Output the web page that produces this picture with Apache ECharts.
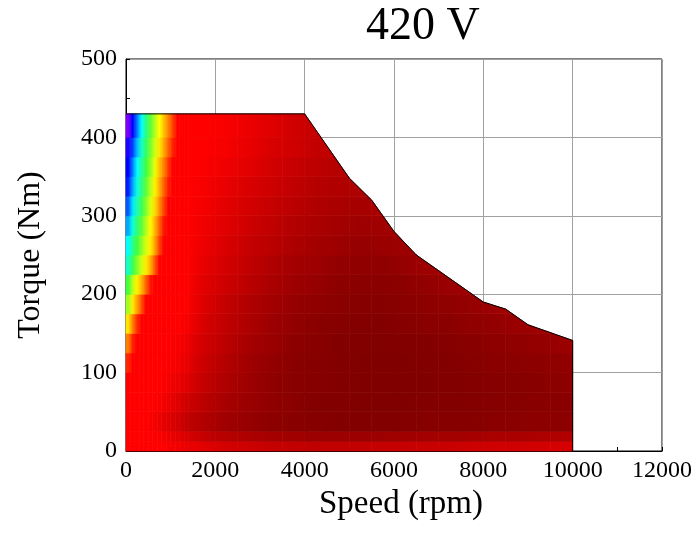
<!DOCTYPE html>
<html>
<head>
<meta charset="utf-8">
<script src="https://cdn.jsdelivr.net/npm/echarts@6/dist/echarts.min.js"></script>
<style>
html,body{margin:0;padding:0;background:#fff;}
#chart{width:699px;height:539px;}
</style>
</head>
<body>
<div id="chart"></div>
<script>
const chartTitle = '420 V';
const xAxisName = 'Speed (rpm)';
const yAxisName = 'Torque (Nm)';

// speed bin edges (rpm) of the efficiency map
const speedEdges = [0,100,200,300,400,500,600,700,800,900,1000,1100,1200,1300,1400,
  2000,2500,3000,3500,4000,4500,5000,5500,6000,6500,7000,7500,8000,8500,9000,9500,10000];
// torque bin edges (Nm)
const torqueEdges = [0,12,25,50,75,100,125,150,175,200,225,250,275,300,325,350,375,400,430];

const eff0  = [92,92,92,92,92,92,92,92,92,92.2,92.3,92.4,92.5,92.6, 92.9,93.4,93.6,93.8,93.9,94.0,93.9,93.9,93.8,93.8,93.7,93.7,93.6,93.5,93.5,93.4,93.3];
const eff1  = [92,92,92,92,92,92,92.1,92.2,92.3,92.5,92.7,92.9,93.0,93.2, 93.8,94.3,94.6,94.8,95.0,95.1,95.1,95.1,95.1,95.0,94.9,94.9,94.8,94.7,94.7,94.6,94.5];
const eff2  = [92,92,92,92,92,92.2,92.3,92.5,92.8,93.0,93.2,93.4,93.6,93.9, 94.4,95.0,95.3,95.6,95.7,95.8,95.9,95.9,95.9,95.9,95.8,95.8,95.8,95.7,95.7,95.6,95.6];
const eff3  = [92,92,92,92,92,92,92,92.2,92.4,92.6,92.8,93.0,93.3,93.5, 94.1,94.8,95.2,95.5,95.7,95.9,95.9,96.0,96.0,96.0,95.9,95.9,95.9,95.8,95.8,95.7,95.7];
const eff4  = [92,92,92,92,92,92,92,92,92.1,92.3,92.4,92.6,92.8,93.0, 93.8,94.6,95.1,95.5,95.7,95.8,95.9,96.0,96.0,96.0,96.0,95.9,95.9,95.8,95.8,95.7,95.6];
const eff5  = [91.4,92,92,92,92,92,92,92,92,92.1,92.2,92.3,92.5,92.7, 93.6,94.4,95.0,95.4,95.7,95.8,95.9,96.0,96.0,96.0,95.9,95.9,95.8,95.7,95.7,95.6,95.5];
const eff6  = [90.0,91.5,92,92,92,92,92,92,92,92,92.1,92.2,92.3,92.5, 93.4,94.2,94.8,95.2,95.6,95.7,95.9,95.9,96.0,95.9,95.9,95.8,95.7,95.6,95.5,95.4,95.2];
const eff7  = [88.4,90.0,91.3,92,92,92,92,92,92,92,92,92,92.1,92.2, 93.2,94.0,94.6,95.1,95.4,95.7,95.8,95.9,95.9,95.8,95.7,95.7,95.5,95.4,95.2,95.1,95.0];
const eff8  = [87.0,88.3,89.5,90.8,92,92,92,92,92,92,92,92,92,92, 93.0,93.9,94.5,94.9,95.3,95.5,95.7,95.8,95.8,95.7,95.6,95.5,95.3,95.1,95.0];
const eff9  = [86.0,87.3,88.2,89.2,90.5,91.7,92,92,92,92,92,92,92,92, 92.9,93.6,94.2,94.7,95.1,95.3,95.6,95.7,95.7,95.6,95.4,95.2,95.0];
const eff10 = [84.6,85.8,86.7,87.5,88.3,89.3,90.7,92,92,92,92,92,92,92, 92.7,93.4,94.0,94.5,94.9,95.1,95.4,95.5,95.5,95.3,95.1,95.0];
const eff11 = [84.0,85.2,86.0,86.8,87.6,88.3,89.5,91.0,92,92,92,92,92,92, 92.5,93.2,93.8,94.2,94.6,94.9,95.1,95.3,95.2,95.1];
const eff12 = [83.3,84.4,85.4,86.3,87.2,88.1,89.2,90.5,91.7,92,92,92,92,92, 92.4,93.0,93.6,94.0,94.4,94.7,94.9,95.1,95.0,94.8];
const eff13 = [82.7,83.8,84.8,85.8,86.7,87.6,88.6,89.8,91.0,92,92,92,92,92, 92.3,92.9,93.4,93.8,94.2,94.5,94.7,94.8,94.7];
const eff14 = [82.2,83.3,84.3,85.3,86.3,87.2,88.2,89.3,90.5,91.6,92,92,92,92, 92.2,92.7,93.2,93.6,94.0,94.3,94.5,94.6];
const eff15 = [82.0,83.0,84.0,85.0,86.0,86.8,87.8,89.0,90.0,91.2,92,92,92,92, 92.1,92.5,92.9,93.4,93.8,94.1,94.3];
const eff16 = [81.5,82.5,83.5,84.6,85.6,86.6,87.5,88.4,89.4,90.5,91.5,92,92,92, 92.0,92.3,92.7,93.2,93.5,93.9,94.0];
const eff17 = [80.0,82.0,83.0,84.0,85.3,86.3,87.2,88.0,89.0,90.0,91.0,92,92,92, 92.0,92.2,92.6,93.0,93.5,93.8];
const efficiencyRows = [eff0,eff1,eff2,eff3,eff4,eff5,eff6,eff7,eff8,eff9,eff10,eff11,eff12,eff13,eff14,eff15,eff16,eff17];

// maximum torque envelope
const envelopeSpeed  = [0,4000,5000,5500,6000,6500,8000,8500,9000,10000,10000];
const envelopeTorque = [430,430,348,320,280,250,190,181,161,141,0];

const effMin = 80, effMax = 96;
const effColors = ['#8000ff','#0000ff','#00ffff','#40ff40','#ffff00','#ff8000','#ff0000','#c00000','#800000'];

const serif = "'Liberation Serif','Times New Roman',serif";

// one data item per map cell: [speedLo, speedHi, torqueLo, torqueHi, efficiency, row, col]
const cells = [];
const cellIndex = efficiencyRows.map(() => []);
efficiencyRows.forEach((row, r) => {
  row.forEach((v, c) => {
    if (v != null) {
      cellIndex[r][c] = cells.length;
      cells.push([speedEdges[c], speedEdges[c + 1], torqueEdges[r], torqueEdges[r + 1], v, r, c]);
    }
  });
});

const nSeg = 9; // envelope segments before the final vertical drop
function envTop(x) {
  for (let i = 0; i < nSeg; i++) {
    const xa = envelopeSpeed[i], xb = envelopeSpeed[i + 1];
    if (x >= xa && x <= xb) {
      const t = (x - xa) / (xb - xa);
      return envelopeTorque[i] + t * (envelopeTorque[i + 1] - envelopeTorque[i]);
    }
  }
  return 0;
}

function renderCell(params, api) {
  const x0 = api.value(0), x1 = api.value(1), y0 = api.value(2), y1 = api.value(3);
  const r = api.value(5), c = api.value(6);
  let xs = [x0, x1];
  for (let i = 0; i < nSeg; i++) {
    const xa = envelopeSpeed[i], xb = envelopeSpeed[i + 1];
    const ya = envelopeTorque[i], yb = envelopeTorque[i + 1];
    if (xa > x0 && xa < x1) xs.push(xa);
    if (ya !== yb) {
      [y0, y1].forEach(yc => {
        const t = (yc - ya) / (yb - ya);
        if (t > 0 && t < 1) {
          const xc = xa + t * (xb - xa);
          if (xc > x0 && xc < x1) xs.push(xc);
        }
      });
    }
  }
  // keep only the part of the cell that lies under the envelope
  xs = xs.filter(x => envTop(x) >= y0 - 1e-9);
  if (xs.length < 2) return null;
  xs.sort((a, b) => b - a);
  const xR = xs[0], xL = xs[xs.length - 1];
  if (xR - xL < 1e-9) return null;
  const pts = [api.coord([xL, y0]), api.coord([xR, y0])];
  xs.forEach(x => pts.push(api.coord([x, Math.min(y1, envTop(x))])));

  // colour shading between neighbouring cell centres (colours from the visualMap)
  const color = api.visual('color');
  const li = cellIndex[r][c - 1], ri = cellIndex[r][c + 1];
  const lx = li != null ? (speedEdges[c - 1] + speedEdges[c]) / 2 : x0;
  const rx = ri != null ? (speedEdges[c + 1] + speedEdges[c + 2]) / 2 : x1;
  const lc = li != null ? api.visual('color', li) : color;
  const rc = ri != null ? api.visual('color', ri) : color;
  const pl = api.coord([lx, y0])[0];
  const pm = api.coord([(x0 + x1) / 2, y0])[0];
  const pr = api.coord([rx, y0])[0];
  const fill = {
    type: 'linear', x: pl, y: 0, x2: pr, y2: 0, global: true,
    colorStops: [
      { offset: 0, color: lc },
      { offset: (pm - pl) / (pr - pl), color: color },
      { offset: 1, color: rc }
    ]
  };
  return {
    type: 'polygon',
    shape: { points: pts },
    style: { fill: fill, stroke: fill, lineWidth: 0.7 }
  };
}

const chart = echarts.init(document.getElementById('chart'), null, { renderer: 'canvas' });
chart.setOption({
  animation: false,
  backgroundColor: '#fff',
  title: {
    text: chartTitle,
    left: 361,
    top: -1,
    textStyle: { fontFamily: serif, fontSize: 46, fontWeight: 'normal', color: '#000' }
  },
  grid: {
    left: 126, top: 59, width: 536, height: 392,
    show: true, borderColor: '#000', borderWidth: 1, backgroundColor: 'transparent'
  },
  visualMap: {
    type: 'continuous', show: false, seriesIndex: 0, dimension: 4,
    min: effMin, max: effMax,
    inRange: { color: effColors }
  },
  xAxis: {
    type: 'value', min: 0, max: 12000, interval: 2000,
    name: xAxisName, nameLocation: 'middle', nameGap: 24,
    nameTextStyle: { fontFamily: serif, fontSize: 33, color: '#000', padding: [0, 0, 0, 14] },
    axisLine: { show: true, lineStyle: { color: '#000', width: 1 } },
    axisTick: { show: true, inside: true, length: 4, lineStyle: { color: '#000' } },
    minorTick: { show: true, splitNumber: 2, length: 4, lineStyle: { color: '#000' } },
    splitLine: { show: true, lineStyle: { color: '#a0a0a0', width: 1 } },
    axisLabel: { fontFamily: serif, fontSize: 24, color: '#000', margin: 8, formatter: v => String(v) }
  },
  yAxis: {
    type: 'value', min: 0, max: 500, interval: 100,
    name: yAxisName, nameLocation: 'middle', nameGap: 79, nameRotate: 90,
    nameTextStyle: { fontFamily: serif, fontSize: 32, color: '#000' },
    axisLine: { show: true, lineStyle: { color: '#000', width: 1 } },
    axisTick: { show: true, inside: true, length: 4, lineStyle: { color: '#000' } },
    minorTick: { show: true, splitNumber: 2, length: 4, lineStyle: { color: '#000' } },
    splitLine: { show: true, lineStyle: { color: '#a0a0a0', width: 1 } },
    axisLabel: { fontFamily: serif, fontSize: 24, color: '#000', margin: 9, formatter: v => String(v) }
  },
  series: [
    {
      type: 'custom',
      renderItem: renderCell,
      data: cells,
      dimensions: ['speedLo', 'speedHi', 'torqueLo', 'torqueHi', 'efficiency', 'row', 'col'],
      encode: { x: [0, 1], y: [2, 3] },
      silent: true,
      z: 2
    },
    {
      type: 'line',
      data: envelopeSpeed.map((s, i) => [s, envelopeTorque[i]]),
      symbol: 'none',
      lineStyle: { color: '#000', width: 1 },
      silent: true,
      z: 3
    }
  ]
});
</script>
</body>
</html>
